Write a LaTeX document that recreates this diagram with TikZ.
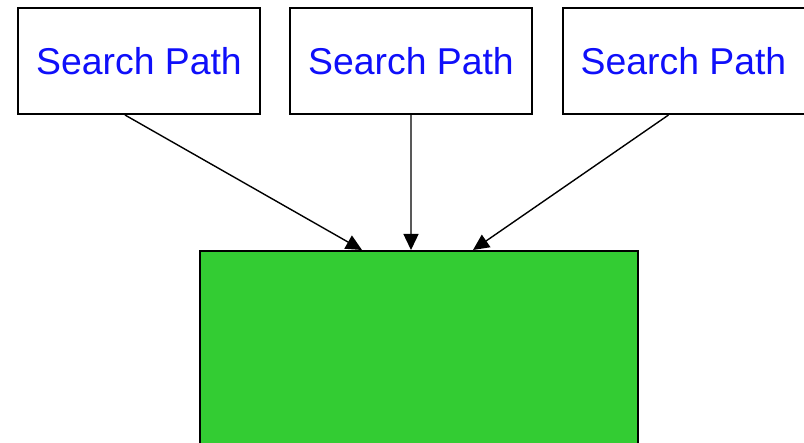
\documentclass[tikz,border=0pt]{standalone}
\usepackage{fontspec}
\setmainfont{Liberation Sans}
\usetikzlibrary{arrows.meta}
\definecolor{pathblue}{RGB}{15,15,250}
\definecolor{boxgreen}{RGB}{51,204,51}
\begin{document}
\begin{tikzpicture}[x=1bp,y=-1bp,
  pathbox/.style={draw=black,line width=2bp,fill=white,minimum width=242bp,minimum height=106bp,
    inner sep=0pt,text=pathblue,font=\fontsize{37.5}{40}\selectfont},
  sink/.style={draw=black,line width=2bp,fill=boxgreen},
  feed/.style={line width=1.4bp,-{Triangle[length=16bp,width=15bp]}}]
  \useasboundingbox (0,0) rectangle (804,443);
  \clip (0,0) rectangle (804,443);
  \fill[white] (0,0) rectangle (804,443);
  % the three source boxes
  \node[pathbox] (b1) at (139,61) {Search Path};
  \node[pathbox] (b2) at (411,61) {Search Path};
  \node[pathbox] (b3) at (683.5,61) {Search Path};
  % the target box, running past the lower edge
  \node[sink,minimum width=438bp,minimum height=230bp,inner sep=0pt,anchor=north] (g) at (419,250) {};
  % connectors
  \draw[feed] ([xshift=-14bp]b1.south) -- ([xshift=-57bp]g.north);
  \draw[feed] (b2.south) -- ([xshift=-8bp]g.north);
  \draw[feed] ([xshift=-15bp]b3.south) -- ([xshift=54bp]g.north);
\end{tikzpicture}
\end{document}
